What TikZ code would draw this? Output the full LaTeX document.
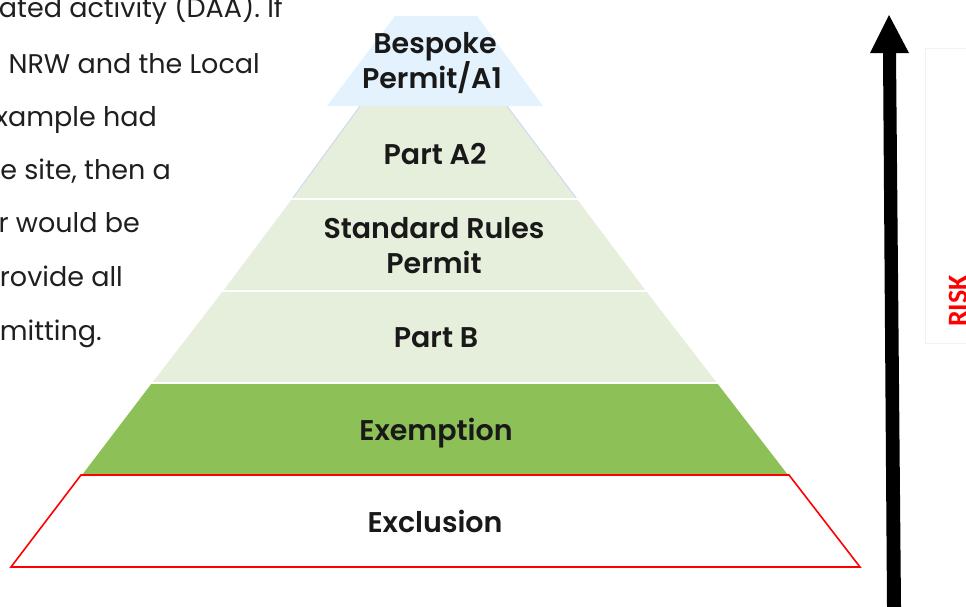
\documentclass[tikz,border=0pt]{standalone}
\usepackage{fontspec}
\setmainfont{Poppins}
\newfontfamily\labelfont{Poppins SemiBold}
\newfontfamily\riskfont{Carlito}
\definecolor{tierlight}{HTML}{E6EFDB}
\definecolor{tierblue}{HTML}{E3F2FD}
\definecolor{tierdark}{HTML}{8DC057}
\definecolor{edgeblue}{HTML}{C9D3EE}
\definecolor{riskred}{HTML}{FF0000}
\tikzset{
  para/.style={anchor=base east, inner sep=0pt, font=\fontsize{27}{27}\selectfont, text=black!88},
  tierlabel/.style={anchor=base, inner sep=0pt, font=\labelfont\fontsize{28.5}{28.5}\selectfont, text=black!90},
  sep/.style={draw=white, line width=2.5pt},
}
\begin{document}
\begin{tikzpicture}[x=1pt,y=-1pt]
\useasboundingbox (0,0) rectangle (966,606);
% paragraph (cropped at the left)
\node[para] (p1) at (283,17) {ated activity (DAA). If};
\node[para] (p2) at (260,73) {NRW and the Local};
\node[para] (p3) at (157,126) {xample had};
\node[para] (p4) at (171,179) {e site, then a};
\node[para] (p5) at (140,232) {or would be};
\node[para] (p6) at (123,286) {provide all};
\node[para] (p7) at (102,340) {mitting.};
% pyramid tiers
\fill[tierlight] (360,106) -- (507,106) -- (577,199) -- (292,199) -- cycle;
\draw[edgeblue, line width=0.8pt] (360,106) -- (292,199) (507,106) -- (577,199);
\fill[tierlight] (292,199) -- (577,199) -- (646,291) -- (223,291) -- cycle;
\fill[tierlight] (223,291) -- (646,291) -- (717,383) -- (152,383) -- cycle;
\fill[tierdark] (152,383) -- (717,383) -- (788,475) -- (82,475) -- cycle;
\draw[sep] (280,199) -- (590,199);
\draw[sep] (210,291) -- (660,291);
\draw[sep] (140,383) -- (730,383);
\fill[tierblue] (395,16) -- (477,16) -- (543,106) -- (327,106) -- cycle;
\draw[riskred, line width=1.6pt, fill=white] (81,475) -- (789,475) -- (860,567) -- (11,567) -- cycle;
% labels
\node[tierlabel] (t1a) at (435,53) {Bespoke};
\node[tierlabel] (t1b) at (432,88) {Permit/A1};
\node[tierlabel] (t2) at (435,164) {Part A2};
\node[tierlabel] (t3a) at (434,238) {Standard Rules};
\node[tierlabel] (t3b) at (434,273) {Permit};
\node[tierlabel] (t4) at (436,347) {Part B};
\node[tierlabel] (t5) at (436,440) {Exemption};
\node[tierlabel] (t6) at (435,532) {Exclusion};
% risk arrow
\draw[black!5, line width=0.6pt] (966,48) -- (925,48) -- (925,343) -- (966,343);
\coordinate (abot) at (894,606);
\coordinate (atip) at (889,15);
\fill[black] (887,607) -- (883,53) -- (870,53) -- (atip) -- (909,53) -- (896,53) -- (901,607) -- cycle;
\node[rotate=90, text=riskred, font=\riskfont\fontsize{28}{28}\selectfont\bfseries, inner sep=0pt] (risk) at (958,301) {RISK};
\end{tikzpicture}
\end{document}
